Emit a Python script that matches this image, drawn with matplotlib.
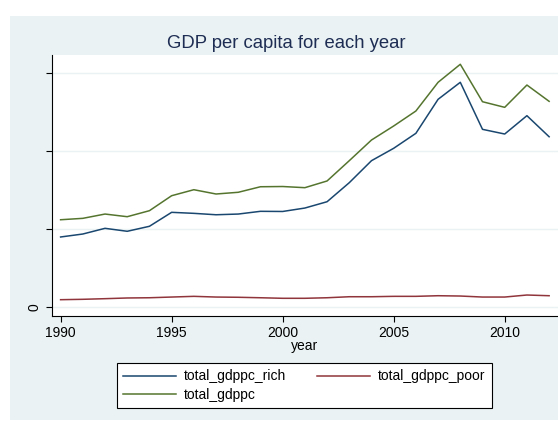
import numpy as np
import matplotlib
matplotlib.use("Agg")
import matplotlib.pyplot as plt
from matplotlib.patches import Rectangle

plt.rcParams['font.family'] = ['Liberation Sans', 'DejaVu Sans']

# values (scale is arbitrary, only 0 is labelled)
years = list(range(1990, 2013))
gdppc_rich = [8940, 9320, 10050, 9670, 10310, 12100, 11970, 11790, 11880, 12230,
              12210, 12650, 13460, 15900, 18720, 20310, 22230, 26590, 28770, 22740,
              22140, 24490, 21790]
gdppc_poor = [900, 950, 1030, 1120, 1150, 1240, 1330, 1240, 1210, 1150,
              1080, 1080, 1150, 1280, 1280, 1330, 1330, 1410, 1370, 1240,
              1240, 1500, 1410]
gdppc_total = [11150, 11330, 11880, 11540, 12310, 14230, 15000, 14450, 14670, 15380,
               15410, 15260, 16120, 18720, 21370, 23170, 25090, 28770, 31080, 26280,
               25560, 28420, 26330]
yticks = [0, 10000, 20000, 30000]
ytick_labels = ['0', '', '', '']
xticks = [1990, 1995, 2000, 2005, 2010]

W, H = 558, 421
fig = plt.figure(figsize=(W / 100, H / 100), dpi=100)
fig.patch.set_facecolor('white')

# stata graph region (light blue)
fig.patches.append(Rectangle((10 / W, 1 / H), 1 - 10 / W, (H - 17) / H,
                             transform=fig.transFigure, facecolor='#eaf2f3',
                             edgecolor='none', zorder=-5))

ax = fig.add_axes([51.5 / W, 1 - 316 / H, 1 - 51.5 / W, (316 - 55) / H])
ax.set_zorder(2)
ax.set_facecolor('white')

l1, = ax.plot(years, gdppc_rich, color='#1a476f', lw=1.1, label='total_gdppc_rich')
l2, = ax.plot(years, gdppc_poor, color='#90353b', lw=1.1, label='total_gdppc_poor')
l3, = ax.plot(years, gdppc_total, color='#55752f', lw=1.1, label='total_gdppc')

ax.set_xlim(1989.59, 2012.4)
ax.set_ylim(-1190, 32270)
ax.set_xticks(xticks)
ax.set_yticks(yticks)
ax.set_yticklabels(ytick_labels, rotation=90, va='center')
ax.grid(axis='y', color='#eaf2f3', lw=1)
ax.set_axisbelow(True)

for s in ['top', 'right']:
    ax.spines[s].set_visible(False)
for s in ['left', 'bottom']:
    ax.spines[s].set_color('black')
    ax.spines[s].set_linewidth(0.8)
ax.tick_params(direction='out', length=4, width=0.8, labelsize=10, colors='black')
ax.set_xlabel('year', fontsize=10, labelpad=-1)

fig.text(0.513, 1 - 43 / H, 'GDP per capita for each year', ha='center', va='center',
         fontsize=13.3, color='#1e2d53')

leg = fig.legend([l1, l3, l2], ['total_gdppc_rich', 'total_gdppc', 'total_gdppc_poor'],
                 ncol=2, loc='center', bbox_to_anchor=(304.4 / W, 1 - 385.8 / H),
                 fontsize=10, frameon=True, fancybox=False, framealpha=1,
                 handlelength=3.8, handletextpad=0.6, columnspacing=2.2,
                 labelspacing=0.35, borderpad=0.45)
leg.get_frame().set_edgecolor('black')
leg.get_frame().set_linewidth(0.8)
leg.set_zorder(3)

fig.savefig('out.png', dpi=100)
